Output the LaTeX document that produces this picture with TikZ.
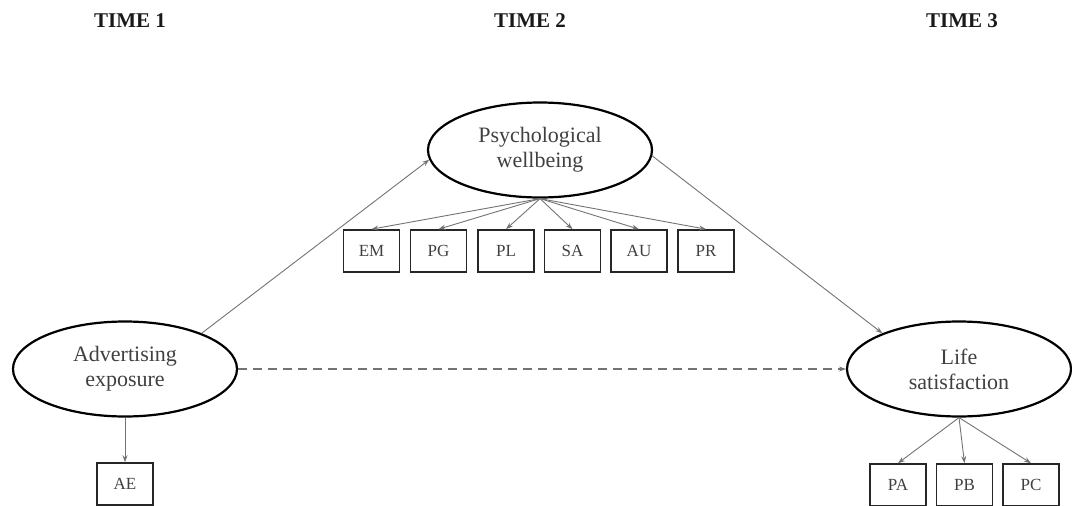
\documentclass[tikz,border=0pt]{standalone}
\usepackage{fontspec}
\setmainfont{Liberation Serif}
\usetikzlibrary{shapes.geometric,arrows.meta}
\begin{document}
\begin{tikzpicture}[x=1pt,y=-1pt,
  latent/.style={ellipse,draw=black,line width=2.2pt,minimum width=224pt,minimum height=95pt,inner sep=0pt,align=center,font=\fontsize{22}{25}\selectfont,text=black!75},
  obs/.style={rectangle,draw=black!85,line width=1.6pt,minimum width=56pt,minimum height=42pt,inner sep=0pt,font=\fontsize{17}{19}\selectfont,text=black!75},
  timelab/.style={font=\bfseries\fontsize{21}{24}\selectfont,text=black!90},
  conn/.style={draw=black!55,line width=0.9pt,-{Stealth[length=7pt,width=5pt]}}]
\useasboundingbox (0,0) rectangle (1072,506);
\node[timelab] (t1) at (130,21) {TIME 1};
\node[timelab] (t2) at (530,21) {TIME 2};
\node[timelab] (t3) at (962,21) {TIME 3};

\node[latent] (pw) at (540,150) {Psychological\\wellbeing};
\node[latent] (ae) at (125,369) {Advertising\\exposure};
\node[latent] (ls) at (959,369) {Life\\satisfaction};

\node[obs] (em) at (371.5,251) {EM};
\node[obs] (pg) at (438.5,251) {PG};
\node[obs] (pl) at (506,251) {PL};
\node[obs] (sa) at (572.5,251) {SA};
\node[obs] (au) at (639,251) {AU};
\node[obs] (pr) at (706,251) {PR};

\node[obs] (aebox) at (125,484) {AE};
\node[obs] (pa) at (898,485) {PA};
\node[obs] (pb) at (964.5,485) {PB};
\node[obs] (pc) at (1031,485) {PC};

\foreach \b in {em,pg,pl,sa,au,pr} \draw[conn] (pw.south) -- (\b.north);
\draw[conn] (ae.south) -- (aebox.north);
\foreach \b in {pa,pb,pc} \draw[conn] (ls.south) -- (\b.north);
\draw[conn] (ae.25) -- (pw.185);
\draw[conn] (pw.-3) -- (ls.155);
\draw[conn,dashed,dash pattern=on 9pt off 6pt,line width=1.2pt] (ae.east) -- (ls.west);
\end{tikzpicture}
\end{document}
